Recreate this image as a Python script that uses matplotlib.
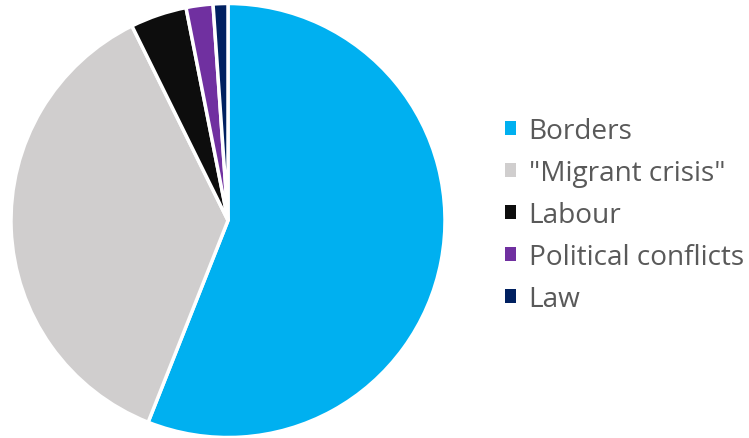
import matplotlib.pyplot as plt
from matplotlib.patches import Patch

# share of coverage by topic (%)
labels = ['Borders', '"Migrant crisis"', 'Labour', 'Political conflicts', 'Law']
shares = [56.0, 36.7, 4.2, 2.0, 1.1]
colors = ['#00B0F0', '#D0CECE', '#0D0D0D', '#7030A0', '#002060']

plt.rcParams['font.family'] = ['Open Sans', 'DejaVu Sans']

fig = plt.figure(figsize=(7.49, 4.39), dpi=100)
# pie centred near the left, radius ~217 px
ax = fig.add_axes([11 / 749, 0.5 / 439, 434 / 749, 434 / 439])
ax.pie(shares, colors=colors, startangle=90, counterclock=False, radius=1,
       wedgeprops=dict(edgecolor='white', linewidth=2.5))
ax.set_xlim(-1.0, 1.0)
ax.set_ylim(-1.0, 1.0)
ax.set_aspect('equal')
ax.axis('off')

handles = [Patch(facecolor=c, edgecolor='none') for c in colors]
leg = fig.legend(handles, labels, loc='center left', bbox_to_anchor=(0.659, 0.508),
                 frameon=False, fontsize=20.2, handlelength=0.4, handleheight=0.4,
                 handletextpad=0.45, labelspacing=0.5, borderaxespad=0)
for t in leg.get_texts():
    t.set_color('#595959')

fig.savefig('out.png', dpi=100)
